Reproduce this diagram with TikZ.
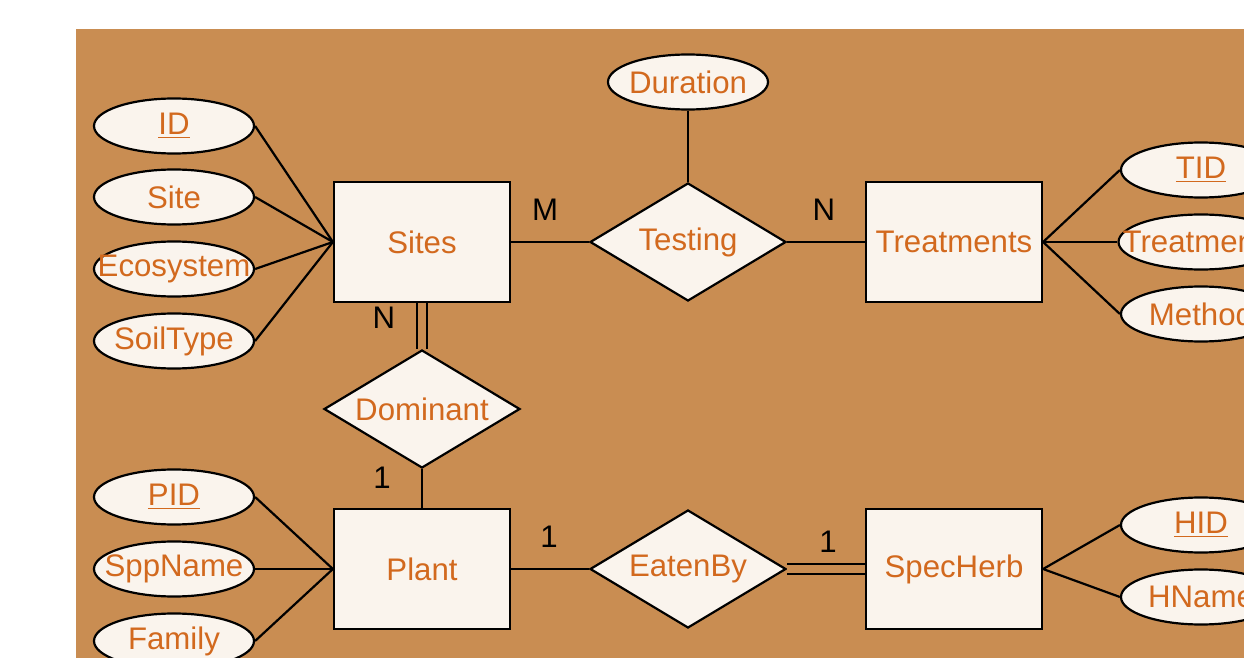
\documentclass[tikz,border=0pt]{standalone}
\usepackage{fontspec}
\setmainfont{Liberation Sans}
\usetikzlibrary{shapes.geometric}
\definecolor{erbg}{RGB}{201,141,82}
\definecolor{erfill}{RGB}{250,244,237}
\definecolor{ertext}{RGB}{210,105,30}

\begin{document}
\begin{tikzpicture}[x=0.5pt,y=-0.5pt,line width=1.1pt,
        every node/.style={font=\fontsize{15.6pt}{18pt}\selectfont},
        entity node/.style={rectangle,draw,fill=erfill,text=ertext,minimum width=88pt,minimum height=60pt,inner sep=0pt},
        rel node/.style={diamond,aspect=1.66,draw,fill=erfill,text=ertext,minimum width=98pt,minimum height=59pt,inner sep=0pt},
        attr node/.style={ellipse,draw,fill=erfill,text=ertext,minimum width=80pt,minimum height=27.5pt,inner xsep=-10pt,inner ysep=0pt},
        card/.style={text=black,inner sep=0pt},
        twin/.style={double=erbg,double distance=3.6pt}]
        \useasboundingbox (0,0) rectangle (1244,658);
        \clip (0,0) rectangle (1244,658);
        \fill[erbg] (76,29) rectangle (1244,658);
        % entities and relations
        \node[entity node] (sites) at (422,242) {Sites};
        \node[entity node] (treatments) at (954,242) {Treatments};
        \node[entity node] (plant) at (422,569) {Plant};
        \node[entity node] (specherb) at (954,569) {SpecHerb};
        \node[rel node] (testing) at (688,242) {Testing};
        \node[rel node] (dominant) at (422,409) {Dominant};
        \node[rel node] (eatenby) at (688,569) {EatenBy};
        % attributes
        \node[attr node] (duration) at (688,82) {Duration};
        \node[attr node] (id) at (174,126) {\underline{ID}};
        \node[attr node] (site) at (174,197) {Site};
        \node[attr node] (ecosystem) at (174,269) {Ecosystem};
        \node[attr node] (soiltype) at (174,341) {SoilType};
        \node[attr node] (pid) at (174,497) {\underline{PID}};
        \node[attr node] (sppname) at (174,569) {SppName};
        \node[attr node] (family) at (174,641) {Family};
        \node[attr node] (tid) at (1201,170) {\underline{TID}};
        \node[attr node] (treatment) at (1201,242) {Treatments};
        \node[attr node] (method) at (1201,314) {Method};
        \node[attr node] (hid) at (1201,525) {\underline{HID}};
        \node[attr node] (hname) at (1201,597) {HName};
        % cardinalities
        \node[card] (m1) at (545,210) {M};
        \node[card] (n1) at (824,210) {N};
        \node[card] (n2) at (384,318) {N};
        \node[card] (o1) at (382,478) {1};
        \node[card] (o2) at (549,537) {1};
        \node[card] (o3) at (828,542) {1};
        \path
        (sites) edge (testing)
        (testing) edge (treatments)
        (duration) edge (testing)
        (sites) edge[twin] (dominant)
        (dominant) edge (plant)
        (plant) edge (eatenby)
        (eatenby) edge[twin] (specherb)
        (id.east) edge (sites.west)
        (site.east) edge (sites.west)
        (ecosystem.east) edge (sites.west)
        (soiltype.east) edge (sites.west)
        (pid.east) edge (plant.west)
        (sppname.east) edge (plant.west)
        (family.east) edge (plant.west)
        (treatments.east) edge (tid.west)
        (treatments.east) edge (treatment.west)
        (treatments.east) edge (method.west)
        (specherb.east) edge (hid.west)
        (specherb.east) edge (hname.west)
        ;
\end{tikzpicture}
\end{document}
